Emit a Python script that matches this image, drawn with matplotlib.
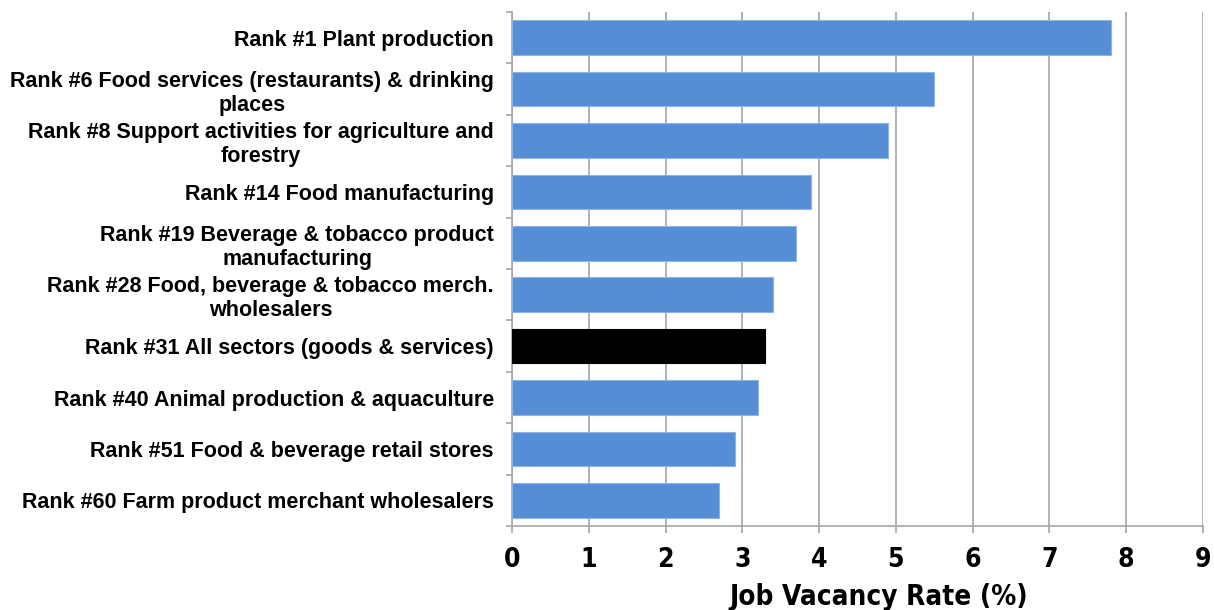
import numpy as np
import matplotlib
matplotlib.use("Agg")
from matplotlib import pyplot as plt
from matplotlib import font_manager

categories = [
    "Rank #1 Plant production",
    "Rank #6 Food services (restaurants) & drinking\nplaces",
    "Rank #8 Support activities for agriculture and\nforestry",
    "Rank #14 Food manufacturing",
    "Rank #19 Beverage & tobacco product\nmanufacturing",
    "Rank #28 Food, beverage & tobacco merch.\nwholesalers",
    "Rank #31 All sectors (goods & services)",
    "Rank #40 Animal production & aquaculture",
    "Rank #51 Food & beverage retail stores",
    "Rank #60 Farm product merchant wholesalers",
]
values = [7.8, 5.5, 4.9, 3.9, 3.7, 3.4, 3.3, 3.2, 2.9, 2.7]
highlight = "Rank #31 All sectors (goods & services)"
x_ticks = list(range(0, 10))

# condensed bold font for the axis numbers, if there is one
cond = None
for f in font_manager.fontManager.ttflist:
    if "Narrow" in f.name or ("DejaVu Sans" in f.name and "ondensed" in f.fname and "Bold" in f.fname and "Oblique" not in f.fname):
        cond = f.fname
        break
if cond:
    num_font = font_manager.FontProperties(fname=cond, weight="bold", size=19)
    lab_font = font_manager.FontProperties(fname=cond, weight="bold", size=20)
else:
    num_font = font_manager.FontProperties(family="Liberation Sans", weight="bold", size=19)
    lab_font = font_manager.FontProperties(family="Liberation Sans", weight="bold", size=20)

fig = plt.figure(figsize=(12.14, 6.1), dpi=100)
ax = fig.add_axes([0.4217, 0.1377, 0.5692, 0.8426])

y = np.arange(len(categories))
colors = ["black" if c == highlight else "#558ed5" for c in categories]
edges = ["black" if c == highlight else "#8db3e2" for c in categories]
ax.barh(y, values, height=0.67, color=colors, edgecolor=edges, linewidth=0.8, zorder=3)

ax.set_ylim(len(categories) - 0.5, -0.5)
ax.set_xlim(0, 9)
ax.set_xticks(x_ticks)
ax.set_xticklabels([str(t) for t in x_ticks], fontproperties=num_font)
ax.set_yticks(y)
ax.set_yticklabels(categories, fontfamily="Liberation Sans", fontweight="bold", fontsize=15.5,
                   ha="right", multialignment="center", linespacing=1.2)
ax.set_yticks(np.arange(len(categories) + 1) - 0.5, minor=True)

ax.tick_params(axis="y", which="major", length=0, pad=13)
ax.tick_params(axis="y", which="minor", length=4, color="#a6a6a6", width=1.2)
ax.tick_params(axis="x", length=5, color="#a6a6a6", width=1.2, pad=10)

ax.grid(axis="x", color="#a6a6a6", linewidth=1.2, zorder=0)
for s in ["top", "right"]:
    ax.spines[s].set_visible(False)
for s in ["left", "bottom"]:
    ax.spines[s].set_color("#a6a6a6")
    ax.spines[s].set_linewidth(1.2)

ax.set_xlabel("Job Vacancy Rate (%)", fontproperties=lab_font)
ax.xaxis.set_label_coords(0.531, -0.110)

fig.savefig("out.png", dpi=100)
